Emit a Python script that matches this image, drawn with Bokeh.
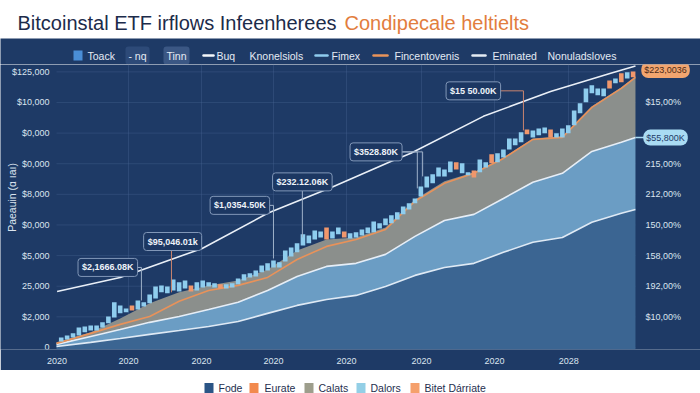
import numpy as np
from math import pi
from bokeh.plotting import figure
from bokeh.layouts import column
from bokeh.models import Range1d, FixedTicker, Label, ColumnDataSource
from bokeh.core.properties import value
from bokeh.embed import file_html
from bokeh.resources import INLINE

FONT = "Liberation Sans"
BG = "#1e3a66"

# ---------------- data ----------------
title_main = "Bitcoinstal ETF irflows Infeenherees"
title_accent = "Condipecale heltielts"

x_tick_pos = [-0.7, 11.4, 23.8, 36.0, 48.4, 61.1, 73.5, 86.1]
x_tick_labels = ["2020", "2020", "2020", "2020", "2020", "2020", "2020", "2028"]

y_tick_pos = [0, 15, 30, 45, 60, 75, 90, 105, 120, 135]
y_left_labels = ["0", "$2,000", "25,000", "$5,000", "$0,000", "$8,000",
                 "$0,000", "$0,000", "$10,000", "$125,000"]
y_right_labels = ["", "$10,00%", "192,00%", "158,00%", "150,00%", "212,00%",
                  "215,00%", "", "$15,00%", ""]
y_axis_title = "Paeauin (ɑ ıaı)"

area_x = [-0.8, 5, 10, 15, 20, 25, 30, 35, 40, 45, 50, 55, 60, 65, 70, 75, 80, 85, 90, 95, 97.4]
base_top = [0.5, 2.5, 4.4, 6.4, 8.3, 10.3, 12.7, 16.7, 20.6, 23.5, 25.5, 29.9, 35.3, 39.2,
            41.2, 46.6, 51.5, 53.9, 61.3, 65.7, 67.6]
mid_top = [1.5, 5.4, 8.8, 12.3, 15.2, 18.6, 22.1, 27.9, 34.8, 39.7, 41.2, 45.6, 54.4, 62.2,
           65.2, 73.0, 80.9, 85.3, 96.0, 100.5, 102.9]
gray_top = [2.5, 7.4, 14.2, 21.6, 27.0, 30.4, 32.8, 38.2, 47.5, 52.9, 53.9, 58.8, 72.5, 81.4,
            85.8, 93.1, 102.4, 103.4, 118.1, 127.4, 132.8]
trend_orange = [2.0, 6.9, 11.3, 15.2, 22.6, 27.9, 30.4, 34.3, 43.1, 49.5, 52.9, 57.8, 71.6,
                80.4, 85.3, 92.6, 101.9, 102.9, 117.6, 126.9, 132.3]

curve_x = [-0.7, 10.0, 13.4, 23.9, 35.0, 45.8, 55.9, 59.3, 71.6, 83.0, 93.2, 97.4]
curve_y = [27.4, 34.3, 37.7, 48.5, 65.7, 78.4, 91.1, 95.1, 113.2, 125.4, 134.3, 137.9]

candle_open = [2.9, 3.9, 4.9, 5.9, 7.4, 8.3, 8.3, 9.8, 11.8, 14.7,
               16.7, 17.2, 20.6, 18.6, 20.1, 21.6, 24.0, 27.0, 26.5, 27.9,
               27.4, 28.9, 30.4, 27.9, 29.4, 29.9, 29.4, 30.9, 28.9, 29.4,
               30.9, 32.8, 34.3, 34.8, 36.8, 37.7, 39.2, 39.2, 42.1, 44.6,
               46.6, 50.0, 51.0, 52.9, 53.9, 58.8, 53.4, 55.4, 56.8, 53.4,
               53.9, 54.9, 55.9, 56.4, 58.3, 59.8, 60.8, 62.7, 65.2, 67.6,
               70.6, 74.0, 78.4, 80.4, 83.8, 83.8, 85.8, 90.7, 85.3, 84.3,
               86.7, 85.8, 88.2, 94.6, 90.7, 93.1, 97.0, 99.0, 100.5, 106.8,
               102.9, 103.9, 104.9, 106.8, 102.9, 102.9, 104.9, 108.8, 114.7, 120.1,
               124.5, 123.5, 123.0, 130.8, 129.4, 134.3, 131.8, 135.2]
candle_close = [4.9, 5.9, 6.9, 9.8, 10.3, 10.8, 10.8, 12.3, 15.2, 22.1,
                20.6, 19.1, 18.1, 23.0, 22.1, 26.0, 29.9, 30.4, 29.9, 33.3,
                31.9, 32.8, 27.4, 31.9, 32.8, 31.9, 31.4, 28.9, 30.9, 31.4,
                33.8, 35.8, 36.3, 37.7, 40.2, 41.2, 42.6, 41.7, 47.5, 49.0,
                51.0, 55.4, 54.9, 57.3, 56.8, 52.9, 56.8, 58.8, 53.9, 55.9,
                56.4, 57.8, 58.8, 61.7, 60.8, 63.2, 64.7, 66.2, 69.1, 70.6,
                73.0, 78.9, 83.8, 84.8, 88.2, 87.2, 91.1, 87.2, 90.2, 85.8,
                83.3, 92.1, 90.7, 90.2, 95.1, 97.0, 102.4, 102.4, 105.4, 104.4,
                106.3, 107.3, 107.8, 102.9, 104.9, 107.3, 108.8, 116.1, 119.6, 126.9,
                128.4, 126.9, 126.9, 126.9, 131.8, 129.9, 134.8, 132.3]

ann_text = ["$2,1666.08K", "$95,046.01k", "$1,0354.50K", "$232.12.06K", "$3528.80K", "$15 50.00K"]
ann_x = [7.9, 18.9, 30.3, 40.9, 53.4, 69.9]
ann_y = [39.2, 51.9, 69.6, 81.1, 95.8, 125.7]

leader_ann = [0, 1, 2, 3, 4, 4, 5]
leader_tx = [13.6, 18.7, 36.0, 40.9, 60.4, 61.3, 78.4]
leader_ty = [23.0, 27.0, 43.6, 53.9, 77.9, 83.8, 106.3]
leader_color = ["#9fb1c9", "#c9846f", "#9fb1c9", "#9fb1c9", "#9fb1c9", "#9fb1c9", "#c9846f"]

badge_text = ["$223,0036", "$55,800K"]
badge_y = [135.9, 102.8]
badge_fill = ["#f2a56f", "#a9dbf3"]
badge_ink = ["#4a2a18", "#1d3a66"]

top_legend_labels = ["Toack", "- nq", "Tinn", "Buq", "Knonelsiols", "Fimex",
                     "Fincentovenis", "Eminated", "Nonuladsloves"]
top_legend_kind = ["square", "chip", "chip", "line", "text", "line", "line", "line", "text"]
top_legend_color = ["#4a8ed6", "#2d4a78", "#3b5784", "#f4f7fb", None, "#8fcbee",
                    "#e8935a", "#e4ebf4", None]

bottom_legend_labels = ["Fode", "Eurate", "Calats", "Dalors", "Bitet Dárriate"]
bottom_legend_colors = ["#2b5586", "#f28a4e", "#9d9e8c", "#93cfe6", "#f5a06c"]

# ---------------- layout constants (pixels / positions) ----------------
W = 700
top_sw_x = [73, 124, 162, 203, None, 315, 373, 472, None]
top_sw_w = [9, 26, 28, 10, 0, 12, 14, 13, 0]
top_tx_x = [87, 137, 176, 216, 249, 331, 394, 492, 547]
bot_sw_x = [204, 249, 304, 356, 410]
bot_tx_x = [218, 264, 318, 370, 424]

X_START, X_END = -10.3, 108.43      # frame spans the whole width
LEFT_LABEL_X = -2.0
RIGHT_LABEL_X = 99.1
AXIS_TITLE_X = -8.3
BADGE_X = 102.5


def blank_fig(h, fill):
    return figure(width=W, height=h, x_range=Range1d(0, W), y_range=Range1d(0, h),
                  x_axis_type=None, y_axis_type=None, toolbar_location=None,
                  output_backend="svg", min_border=0, outline_line_color=None,
                  background_fill_color=fill, border_fill_color=fill)

# ---------------- title ----------------
tf = blank_fig(38, "white")
tf.text(x=[17], y=[15.5], text=[title_main], text_font=value(FONT), text_font_size="20px",
        text_color="#1c2b4a", text_baseline="middle", text_align="left")
tf.text(x=[344], y=[15.5], text=[title_accent], text_font=value(FONT), text_font_size="20px",
        text_color="#e27d3e", text_baseline="middle", text_align="left")

# ---------------- top legend row ----------------
lf = blank_fig(26, BG)
ly = 9
for lab, kind, col, sx, sw, tx in zip(top_legend_labels, top_legend_kind, top_legend_color,
                                       top_sw_x, top_sw_w, top_tx_x):
    if kind == "square":
        lf.rect(x=[sx + sw / 2], y=[ly], width=sw, height=10, fill_color=col, line_color=None)
    elif kind == "line":
        lf.segment(x0=[sx], y0=[ly], x1=[sx + sw], y1=[ly], line_color=col,
                   line_width=2.5, line_cap="round")
    if kind == "chip":
        lf.add_layout(Label(x=tx, y=ly, text=lab, text_align="center", text_baseline="middle",
                            text_font=FONT, text_font_size="10.5px", text_color="#e4ebf4",
                            background_fill_color=col, border_radius=3, padding=3))
    else:
        lf.text(x=[tx], y=[ly], text=[lab], text_font=value(FONT), text_font_size="10.5px",
                text_color="#e4ebf4", text_baseline="middle", text_align="left")

# ---------------- main chart ----------------
p = figure(width=W, height=306, x_range=Range1d(X_START, X_END), y_range=Range1d(-1, 138.6),
           y_axis_type=None, output_backend="svg", toolbar_location=None,
           min_border_left=0, min_border_right=0, min_border_top=0, min_border_bottom=21,
           background_fill_color=BG, border_fill_color=BG, outline_line_color=None)

xa = p.xaxis[0]
xa.ticker = FixedTicker(ticks=x_tick_pos)
xa.major_label_overrides = dict(zip(x_tick_pos, x_tick_labels))
xa.axis_line_color = None
xa.major_tick_line_color = None
xa.minor_tick_line_color = None
xa.major_tick_out = 0
xa.major_tick_in = 0
xa.major_label_standoff = 8
xa.major_label_text_font = FONT
xa.major_label_text_font_size = "9px"
xa.major_label_text_color = "#dbe4ef"

p.xgrid.ticker = FixedTicker(ticks=x_tick_pos[1:])
p.xgrid.grid_line_color = "#4a6894"
p.xgrid.grid_line_alpha = 0.35

# horizontal grid lines across the plotting area
p.segment(x0=[area_x[0]] * len(y_tick_pos), x1=[area_x[-1]] * len(y_tick_pos),
          y0=y_tick_pos, y1=y_tick_pos, line_color="#4a6894", line_alpha=0.35, line_width=1)

p.varea(x=area_x, y1=-1, y2=base_top, fill_color="#3b6592")
p.varea(x=area_x, y1=base_top, y2=mid_top, fill_color="#6b9dc4")
p.varea(x=area_x, y1=mid_top, y2=gray_top, fill_color="#8b8f8c")
p.line(area_x, base_top, line_color="#dfeaf5", line_width=1.6)
p.line(area_x, mid_top, line_color="#e6eef7", line_width=1.6)
p.line(area_x, trend_orange, line_color="#e8925a", line_width=1.6)
p.line(curve_x, curve_y, line_color="#e9eff7", line_width=1.6)
# short connector from the light-blue layer to its value badge
p.segment(x0=[area_x[-1]], y0=[mid_top[-1]], x1=[BADGE_X - 3.5], y1=[mid_top[-1]],
          line_color="#a9dbf3", line_width=1.5)

c_open = np.array(candle_open)
c_close = np.array(candle_close)
csrc = ColumnDataSource(dict(
    x=np.arange(len(c_open)),
    top=np.maximum(c_open, c_close),
    bottom=np.minimum(c_open, c_close),
    color=np.where(c_close >= c_open, "#8fcdee", "#f0976c"),
))
p.vbar(x="x", width=0.78, top="top", bottom="bottom", fill_color="color",
       line_color=None, source=csrc)

lxs, lys = [], []
for a, tx, ty in zip(leader_ann, leader_tx, leader_ty):
    lxs.append([ann_x[a], tx, tx])
    lys.append([ann_y[a], ann_y[a], ty])
p.multi_line(xs=lxs, ys=lys, line_color=leader_color, line_width=1)

# axis tick labels (left & right) and axis title
p.text(x=[LEFT_LABEL_X] * len(y_tick_pos), y=y_tick_pos, text=y_left_labels,
       text_font=value(FONT), text_font_size="9px", text_color="#dbe4ef",
       text_align="right", text_baseline="middle")
r_y = [t for t, l in zip(y_tick_pos, y_right_labels) if l]
r_t = [l for l in y_right_labels if l]
p.text(x=[RIGHT_LABEL_X] * len(r_y), y=r_y, text=r_t,
       text_font=value(FONT), text_font_size="9px", text_color="#dbe4ef",
       text_align="left", text_baseline="middle")
p.text(x=[AXIS_TITLE_X], y=[73.5], text=[y_axis_title], angle=pi / 2,
       text_font=value(FONT), text_font_size="10.5px", text_color="#dbe4ef",
       text_align="center", text_baseline="middle")

for x, y, t in zip(ann_x, ann_y, ann_text):
    p.add_layout(Label(x=x, y=y, text=t, text_align="center", text_baseline="middle",
                       text_font=FONT, text_font_size="9px", text_font_style="bold",
                       text_color="#eef3f9", background_fill_color="#1c3762",
                       border_line_color="#8197b8", border_line_width=1,
                       border_radius=3, padding=4))

for t, y, fc, ink in zip(badge_text, badge_y, badge_fill, badge_ink):
    p.add_layout(Label(x=BADGE_X, y=y, text=t, text_align="center", text_baseline="middle",
                       text_font=FONT, text_font_size="9px", text_color=ink,
                       background_fill_color=fc, border_radius=7, padding=3))

# ---------------- bottom legend ----------------
bf = blank_fig(23, "white")
by = 5.5
for lab, col, sx, tx in zip(bottom_legend_labels, bottom_legend_colors, bot_sw_x, bot_tx_x):
    bf.rect(x=[sx + 4.5], y=[by], width=9, height=10, fill_color=col, line_color=None)
    bf.text(x=[tx], y=[by], text=[lab], text_font=value(FONT), text_font_size="10.5px",
            text_color="#1f2f4f", text_baseline="middle", text_align="left")

layout = column(tf, lf, p, bf)
open("out.html", "w").write(file_html(layout, INLINE))
